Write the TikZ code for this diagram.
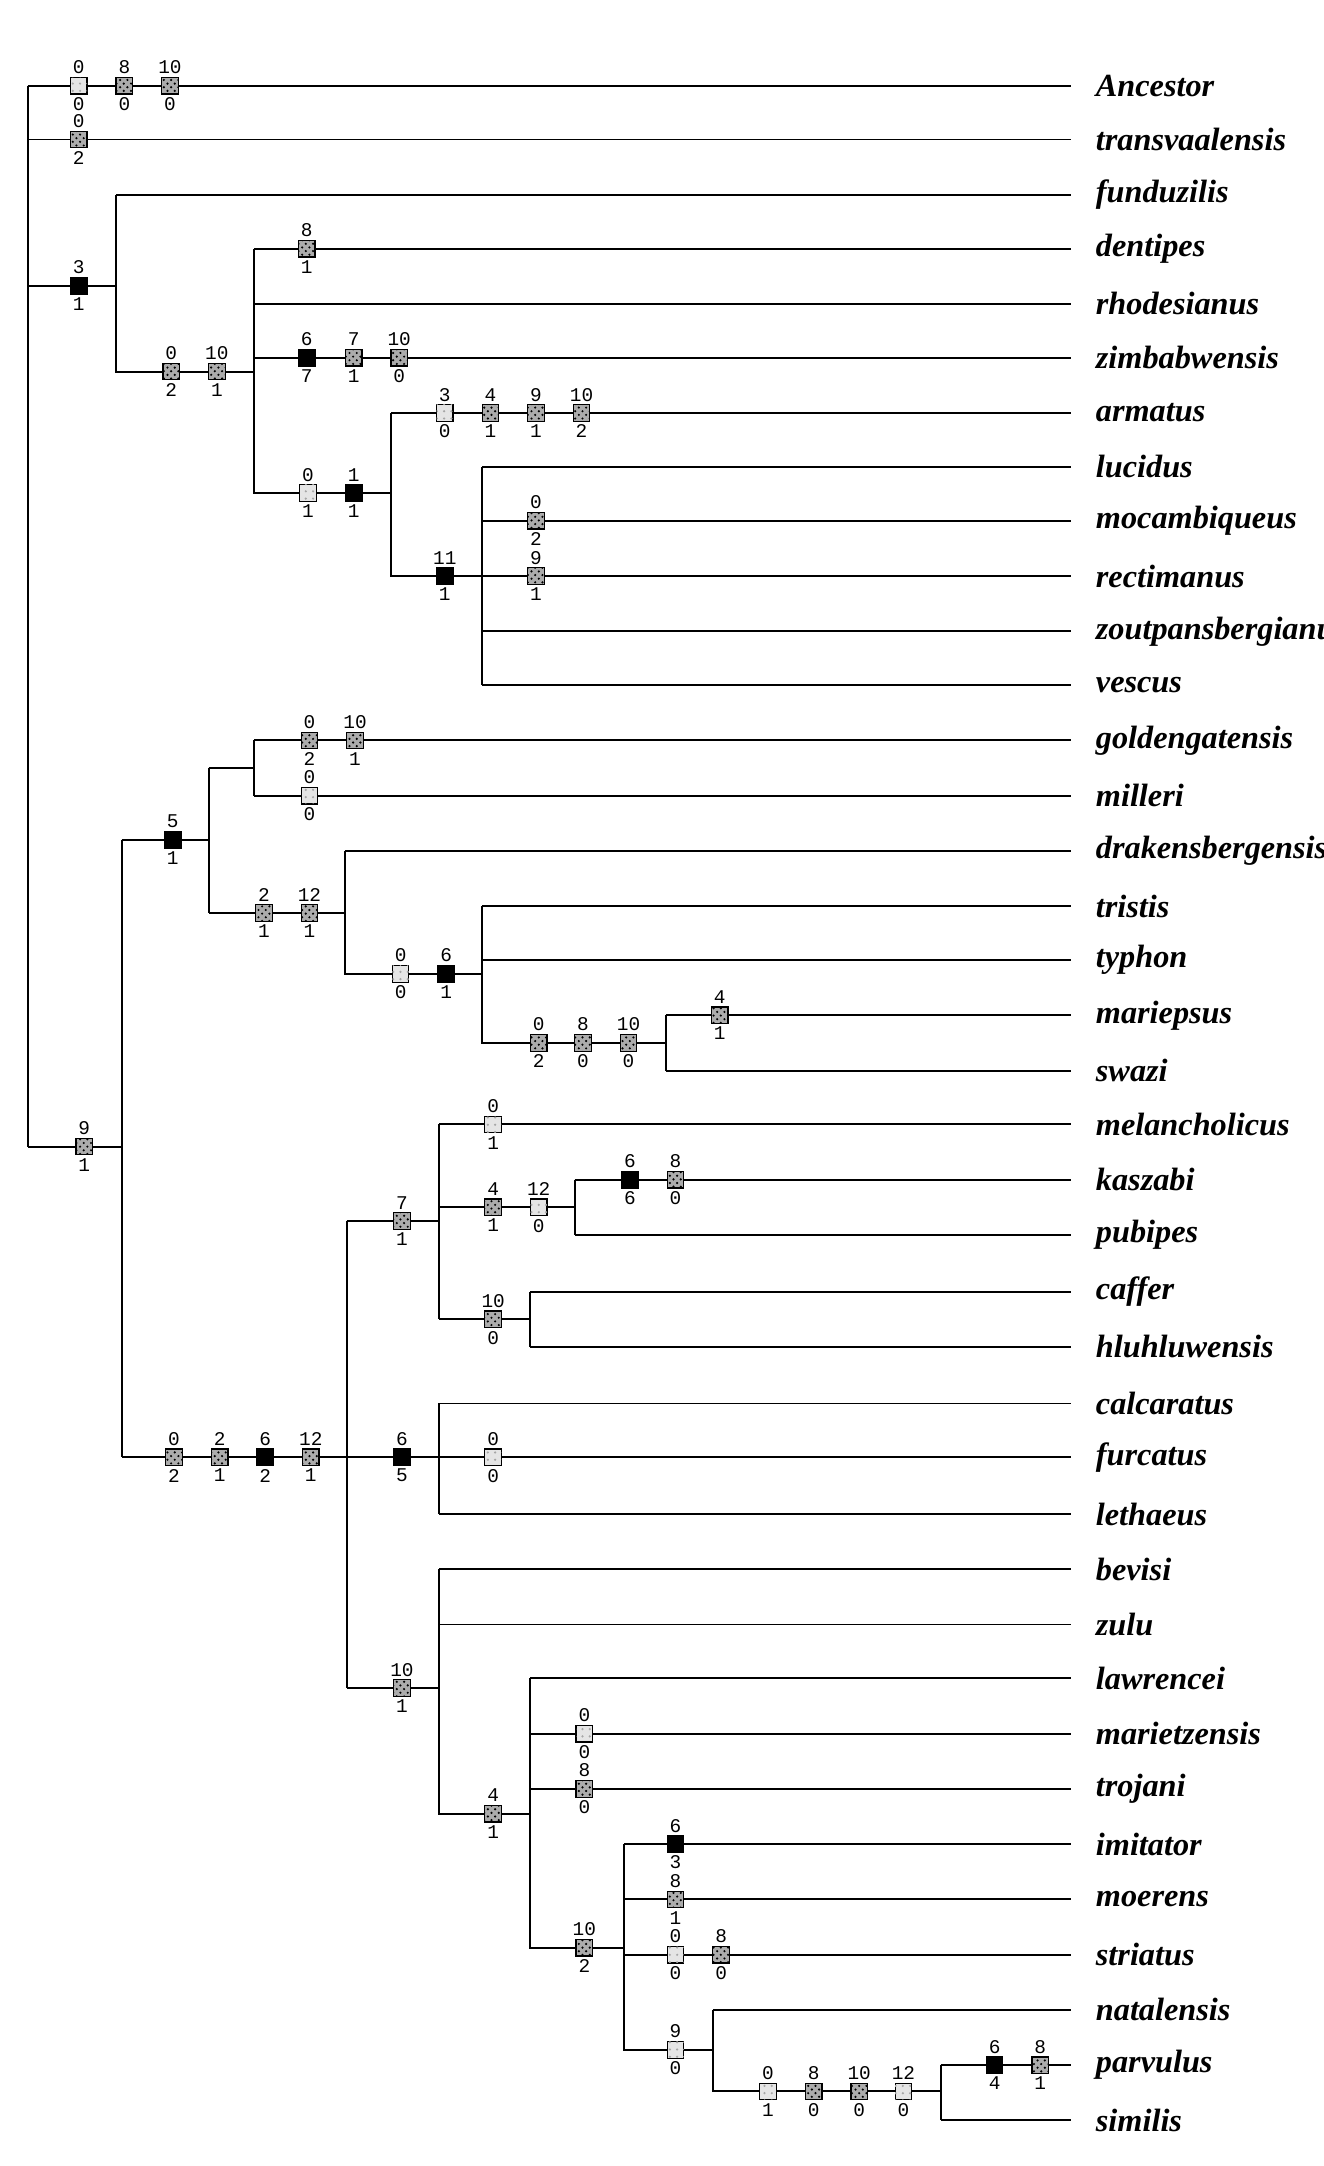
\documentclass[tikz,border=0pt]{standalone}
\usepackage{fontspec}
\setmainfont{Liberation Serif}
\setmonofont{Liberation Mono}
\usetikzlibrary{patterns}

\tikzset{
  taxon/.style={anchor=west,font=\fontsize{13.3}{14}\selectfont\bfseries\itshape,inner sep=0pt},
  num/.style={font=\ttfamily\fontsize{8}{8}\selectfont,inner sep=0.5pt,label distance=0.5pt},
  chr/.style={draw,line width=0.5pt,minimum size=0.24cm,inner sep=0pt},
  lt/.style={chr,fill=gray!20,pattern color=gray!70,postaction={pattern=dots}},
  dk/.style={chr,fill=gray!65,postaction={pattern=crosshatch dots,pattern color=black}},
  bk/.style={chr,fill=black},
  br/.style={line width=0.8pt}
}
% character state box on a branch
\newcommand\chbox[5]{\node[#5,label={[num]above:#3},label={[num]below:#4}] (c#1-#2) at (#1,#2) {};}

\begin{document}
\begin{tikzpicture}[x=0.02cm,y=-0.02cm]
    \useasboundingbox (0,0) rectangle (958,1568);
    \clip (0,0) rectangle (958,1568);
    % terminal branches and names
    \foreach \name/\x/\y in {Ancestor/20/62, transvaalensis/20/101, funduzilis/84/141,
        dentipes/184/180, rhodesianus/184/220, zimbabwensis/184/259, armatus/283/299,
        lucidus/349/338, mocambiqueus/349/377, rectimanus/349/417,
        zoutpansbergianus/349/457, vescus/349/496, goldengatensis/184/536,
        milleri/184/576, drakensbergensis/250/616, tristis/349/656, typhon/349/695,
        mariepsus/482/735, swazi/482/775, melancholicus/318/814, kaszabi/416/854,
        pubipes/416/894, caffer/384/935, hluhluwensis/384/975, calcaratus/318/1016,
        furcatus/318/1055, lethaeus/318/1096, bevisi/318/1136, zulu/318/1176,
        lawrencei/384/1215, marietzensis/384/1255, trojani/384/1295,
        imitator/452/1335, moerens/452/1375, striatus/452/1415,
        natalensis/516/1455, parvulus/681/1495, similis/681/1535} {
      \draw[br] (\x,\y) -- (775,\y);
      \node[taxon] (t-\name) at (793,\y) {\name};
    }
    % internal branches
    \draw[br] (20,62) -- (20,830);
    \draw[br] (20,207) -- (84,207) (84,141) -- (84,269) -- (184,269);
    \draw[br] (184,180) -- (184,357) -- (283,357);
    \draw[br] (283,299) -- (283,417) -- (349,417);
    \draw[br] (349,338) -- (349,496);
    \draw[br] (20,830) -- (88,830) (88,608) -- (88,1055);
    \draw[br] (88,608) -- (151,608) (151,556) -- (151,661);
    \draw[br] (151,556) -- (184,556) (184,536) -- (184,576);
    \draw[br] (151,661) -- (250,661) (250,616) -- (250,705) -- (349,705);
    \draw[br] (349,656) -- (349,755) -- (482,755) (482,735) -- (482,775);
    \draw[br] (88,1055) -- (251,1055) (251,884) -- (251,1222);
    \draw[br] (251,884) -- (318,884) (318,814) -- (318,955);
    \draw[br] (318,874) -- (416,874) (416,854) -- (416,894);
    \draw[br] (318,955) -- (384,955) (384,935) -- (384,975);
    \draw[br] (251,1055) -- (318,1055) (318,1016) -- (318,1096);
    \draw[br] (251,1222) -- (318,1222) (318,1136) -- (318,1313) -- (384,1313);
    \draw[br] (384,1215) -- (384,1410) -- (452,1410);
    \draw[br] (452,1335) -- (452,1484) -- (516,1484);
    \draw[br] (516,1455) -- (516,1514) -- (681,1514) (681,1495) -- (681,1535);
    % character changes
    \chbox{57}{62}{0}{0}{lt} \chbox{90}{62}{8}{0}{dk} \chbox{123}{62}{10}{0}{dk}
    \chbox{57}{101}{0}{2}{dk}
    \chbox{57}{207}{3}{1}{bk}
    \chbox{124}{269}{0}{2}{dk} \chbox{157}{269}{10}{1}{dk}
    \chbox{222}{180}{8}{1}{dk}
    \chbox{222}{259}{6}{7}{bk} \chbox{256}{259}{7}{1}{dk} \chbox{289}{259}{10}{0}{dk}
    \chbox{223}{357}{0}{1}{lt} \chbox{256}{357}{1}{1}{bk}
    \chbox{322}{299}{3}{0}{lt} \chbox{355}{299}{4}{1}{dk} \chbox{388}{299}{9}{1}{dk} \chbox{421}{299}{10}{2}{dk}
    \chbox{388}{377}{0}{2}{dk}
    \chbox{322}{417}{11}{1}{bk} \chbox{388}{417}{9}{1}{dk}
    \chbox{224}{536}{0}{2}{dk} \chbox{257}{536}{10}{1}{dk}
    \chbox{224}{576}{0}{0}{lt}
    \chbox{125}{608}{5}{1}{bk}
    \chbox{191}{661}{2}{1}{dk} \chbox{224}{661}{12}{1}{dk}
    \chbox{290}{705}{0}{0}{lt} \chbox{323}{705}{6}{1}{bk}
    \chbox{390}{755}{0}{2}{dk} \chbox{422}{755}{8}{0}{dk} \chbox{455}{755}{10}{0}{dk}
    \chbox{521}{735}{4}{1}{dk}
    \chbox{61}{830}{9}{1}{dk}
    \chbox{357}{814}{0}{1}{lt}
    \chbox{357}{874}{4}{1}{dk} \chbox{390}{874}{12}{0}{lt}
    \chbox{456}{854}{6}{6}{bk} \chbox{489}{854}{8}{0}{dk}
    \chbox{291}{884}{7}{1}{dk}
    \chbox{357}{955}{10}{0}{dk}
    \chbox{126}{1055}{0}{2}{dk} \chbox{159}{1055}{2}{1}{dk} \chbox{192}{1055}{6}{2}{bk}
    \chbox{225}{1055}{12}{1}{dk} \chbox{291}{1055}{6}{5}{bk}
    \chbox{357}{1055}{0}{0}{lt}
    \chbox{291}{1222}{10}{1}{dk}
    \chbox{423}{1255}{0}{0}{lt}
    \chbox{423}{1295}{8}{0}{dk}
    \chbox{357}{1313}{4}{1}{dk}
    \chbox{489}{1335}{6}{3}{bk}
    \chbox{489}{1375}{8}{1}{dk}
    \chbox{489}{1415}{0}{0}{lt} \chbox{522}{1415}{8}{0}{dk}
    \chbox{423}{1410}{10}{2}{dk}
    \chbox{489}{1484}{9}{0}{lt}
    \chbox{556}{1514}{0}{1}{lt} \chbox{589}{1514}{8}{0}{dk} \chbox{622}{1514}{10}{0}{dk} \chbox{654}{1514}{12}{0}{lt}
    \chbox{720}{1495}{6}{4}{bk} \chbox{753}{1495}{8}{1}{dk}
\end{tikzpicture}
\end{document}
